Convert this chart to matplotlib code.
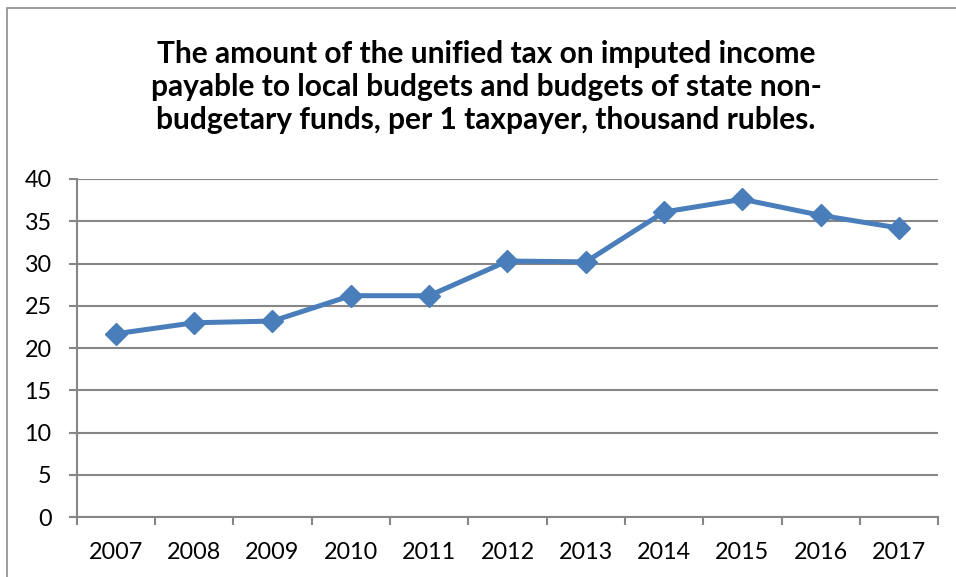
import matplotlib
matplotlib.use("Agg")
import matplotlib.pyplot as plt
from matplotlib.patches import Rectangle

plt.rcParams['font.family'] = ['Lato', 'DejaVu Sans']

years = ["2007", "2008", "2009", "2010", "2011", "2012", "2013", "2014", "2015", "2016", "2017"]
values = [21.7, 23.0, 23.2, 26.2, 26.2, 30.3, 30.2, 36.1, 37.6, 35.7, 34.2]
y_ticks = [0, 5, 10, 15, 20, 25, 30, 35, 40]

title = ("The amount of the unified tax on imputed income\n"
         "payable to local budgets and budgets of state non-\n"
         "budgetary funds, per 1 taxpayer, thousand rubles.")

grid_color = "#868686"
line_color = "#4a7ebb"

fig = plt.figure(figsize=(9.56, 5.77), dpi=100)
ax = fig.add_axes([0.0802, 0.1035, 0.9013, 0.5863])

# chart-area frame
fig.patches.append(Rectangle((7 / 956, -0.1), 1.2, 1 - 8 / 577 + 0.1,
                             transform=fig.transFigure, fill=False,
                             edgecolor="#8c8c8c", linewidth=1.2))

x = list(range(len(years)))
ax.plot(x, values, color=line_color, linewidth=3.6, marker="D",
        markersize=11, markerfacecolor=line_color, markeredgecolor=line_color,
        zorder=3, clip_on=False)

ax.set_ylim(0, 40)
ax.set_xlim(-0.5, len(years) - 0.5)
ax.set_yticks(y_ticks)
ax.set_yticklabels([str(t) for t in y_ticks])

# category labels centred between boundary ticks
ax.set_xticks([i - 0.5 for i in range(len(years) + 1)])
ax.set_xticklabels([""] * (len(years) + 1))
ax.set_xticks(x, minor=True)
ax.set_xticklabels(years, minor=True)
ax.tick_params(axis="x", which="minor", length=0, pad=18, labelsize=16.8)
ax.tick_params(axis="x", which="major", length=6, width=1.5, color=grid_color, direction="out")
ax.tick_params(axis="y", length=6, width=1.5, color=grid_color, direction="out",
               pad=12, labelsize=16.8)

ax.yaxis.grid(True, color=grid_color, linewidth=1.5)
ax.set_axisbelow(True)
for side in ("top", "right"):
    ax.spines[side].set_visible(False)
for side in ("left", "bottom"):
    ax.spines[side].set_color(grid_color)
    ax.spines[side].set_linewidth(1.5)

fig.text(486 / 956, 1 - 87 / 577, title, ha="center", va="center",
         fontsize=21.5, fontweight="bold", linespacing=1.2)

fig.savefig("out.png", dpi=100)
